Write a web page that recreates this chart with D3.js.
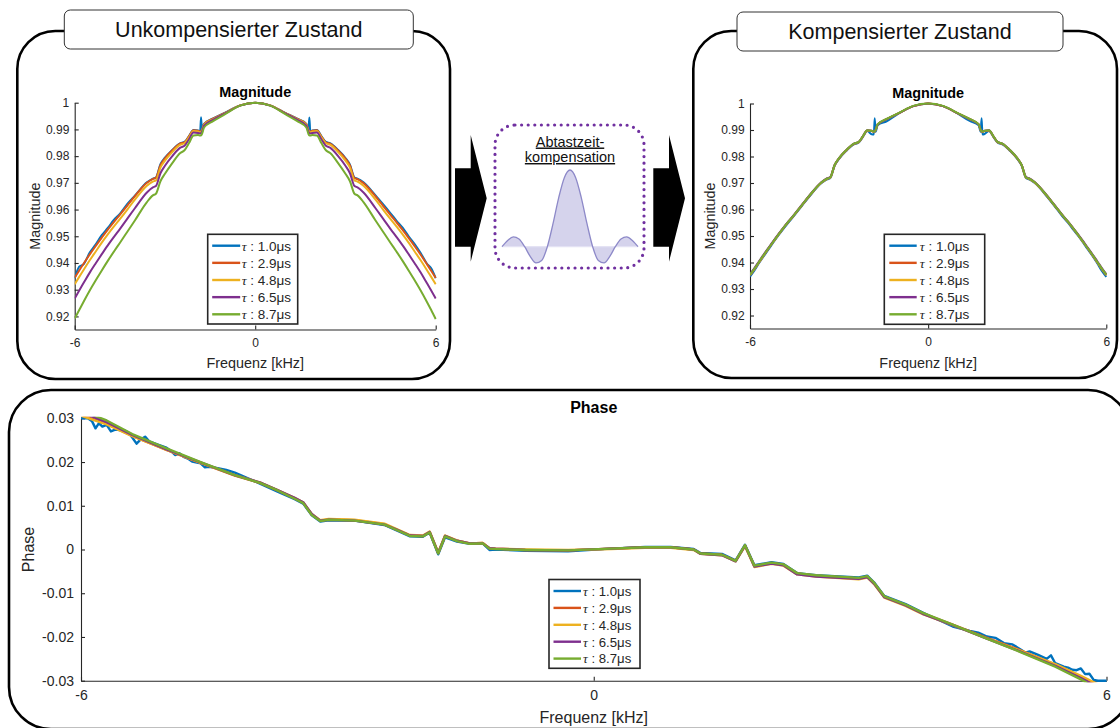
<!DOCTYPE html>
<html>
<head>
<meta charset="utf-8">
<script src="https://cdn.jsdelivr.net/npm/d3@7"></script>
<style>
  body { margin: 0; background: #fff; }
  svg { display: block; }
  text { font-family: "Liberation Sans", Arial, Helvetica, sans-serif; }
</style>
</head>
<body>
<svg id="fig" width="1120" height="728"></svg>
<script>
// ---- series labels and colours ----
const tauLabels = ["1.0μs", "2.9μs", "4.8μs", "6.5μs", "8.7μs"];
const seriesColors = ["#0072BD", "#D95319", "#EDB120", "#7E2F8E", "#77AC30"];

// ---- tick values ----
const freqTicks = [-6, 0, 6];
const magTicks = [0.92, 0.93, 0.94, 0.95, 0.96, 0.97, 0.98, 0.99, 1];
const phaseTicks = [-0.03, -0.02, -0.01, 0, 0.01, 0.02, 0.03];

// ---- magnitude: frequency grid [kHz] ----
const magFreq = [-6, -5.85, -5.7, -5.5, -5.3, -5.1, -4.9, -4.7, -4.5, -4.25, -4, -3.6, -3.4, -3.3, -3.15, -3, -2.75, -2.5, -2.35, -2.2, -2.05, -1.9, -1.83, -1.8, -1.77, -1.7, -1.4, -1, -0.5,
  0,
  0.5, 1, 1.4, 1.7, 1.77, 1.8, 1.83, 1.9, 2.05, 2.2, 2.35, 2.5, 2.75, 3, 3.15, 3.3, 3.4, 3.6, 4, 4.25, 4.5, 4.7, 4.9, 5.1, 5.3, 5.5, 5.7, 5.85, 6];

// ---- magnitude, uncompensated ----
const uncompBlue = [0.9342, 0.9386, 0.9396, 0.9439, 0.9470, 0.9504, 0.9531, 0.9561, 0.9584, 0.9621, 0.9652, 0.9702, 0.9716, 0.9720, 0.9770, 0.9794, 0.9824, 0.9848, 0.9853, 0.9875, 0.9898, 0.9896, 0.9893, 0.9946, 0.9899, 0.9921, 0.9941, 0.9963, 0.9990,
  1.0000,
  0.9990, 0.9962, 0.9940, 0.9921, 0.9898, 0.9945, 0.9893, 0.9896, 0.9898, 0.9875, 0.9853, 0.9848, 0.9824, 0.9793, 0.9768, 0.9720, 0.9716, 0.9702, 0.9653, 0.9620, 0.9586, 0.9558, 0.9532, 0.9500, 0.9471, 0.9437, 0.9399, 0.9380, 0.9343];
const uncompRed = [0.9345, 0.9372, 0.9398, 0.9432, 0.9464, 0.9495, 0.9525, 0.9553, 0.9580, 0.9615, 0.9650, 0.9700, 0.9715, 0.9719, 0.9766, 0.9792, 0.9823, 0.9847, 0.9852, 0.9874, 0.9897, 0.9895, 0.9892, 0.9893, 0.9898, 0.9920, 0.9940, 0.9962, 0.9990,
  1.0000,
  0.9990, 0.9961, 0.9939, 0.9920, 0.9897, 0.9893, 0.9892, 0.9895, 0.9897, 0.9873, 0.9851, 0.9846, 0.9822, 0.9791, 0.9765, 0.9718, 0.9714, 0.9699, 0.9649, 0.9614, 0.9579, 0.9552, 0.9524, 0.9494, 0.9463, 0.9431, 0.9397, 0.9371, 0.9344];
const uncompOrange = [0.9320, 0.9348, 0.9375, 0.9410, 0.9443, 0.9476, 0.9507, 0.9536, 0.9564, 0.9600, 0.9637, 0.9689, 0.9705, 0.9709, 0.9757, 0.9783, 0.9816, 0.9842, 0.9848, 0.9870, 0.9894, 0.9892, 0.9889, 0.9890, 0.9895, 0.9918, 0.9938, 0.9961, 0.9990,
  1.0000,
  0.9990, 0.9961, 0.9938, 0.9918, 0.9895, 0.9890, 0.9889, 0.9892, 0.9894, 0.9870, 0.9848, 0.9842, 0.9816, 0.9783, 0.9757, 0.9709, 0.9705, 0.9689, 0.9637, 0.9600, 0.9564, 0.9536, 0.9507, 0.9476, 0.9443, 0.9410, 0.9375, 0.9348, 0.9320];
const uncompPurple = [0.9267, 0.9297, 0.9326, 0.9364, 0.9399, 0.9433, 0.9466, 0.9497, 0.9527, 0.9566, 0.9605, 0.9664, 0.9683, 0.9688, 0.9736, 0.9764, 0.9801, 0.9831, 0.9839, 0.9863, 0.9888, 0.9887, 0.9885, 0.9886, 0.9891, 0.9914, 0.9936, 0.9960, 0.9989,
  1.0000,
  0.9989, 0.9960, 0.9936, 0.9914, 0.9891, 0.9886, 0.9885, 0.9887, 0.9888, 0.9863, 0.9839, 0.9831, 0.9801, 0.9764, 0.9736, 0.9688, 0.9683, 0.9664, 0.9605, 0.9566, 0.9527, 0.9497, 0.9466, 0.9433, 0.9399, 0.9364, 0.9326, 0.9297, 0.9267];
const uncompGreen = [0.9192, 0.9224, 0.9256, 0.9297, 0.9335, 0.9372, 0.9408, 0.9442, 0.9475, 0.9517, 0.9559, 0.9628, 0.9653, 0.9659, 0.9706, 0.9734, 0.9775, 0.9811, 0.9822, 0.9849, 0.9877, 0.9879, 0.9877, 0.9878, 0.9883, 0.9907, 0.9931, 0.9957, 0.9989,
  1.0000,
  0.9989, 0.9957, 0.9931, 0.9907, 0.9883, 0.9878, 0.9877, 0.9879, 0.9877, 0.9849, 0.9822, 0.9811, 0.9775, 0.9734, 0.9706, 0.9659, 0.9653, 0.9628, 0.9559, 0.9517, 0.9475, 0.9442, 0.9408, 0.9372, 0.9335, 0.9297, 0.9256, 0.9224, 0.9190];

// ---- magnitude, compensated ----
const compBlue = [0.9347, 0.9370, 0.9397, 0.9430, 0.9462, 0.9494, 0.9523, 0.9551, 0.9579, 0.9614, 0.9649, 0.9699, 0.9714, 0.9718, 0.9765, 0.9791, 0.9822, 0.9846, 0.9851, 0.9873, 0.9896, 0.9884, 0.9883, 0.9944, 0.9893, 0.9918, 0.9933, 0.9962, 0.9990,
  0.9999,
  0.9990, 0.9962, 0.9934, 0.9918, 0.9893, 0.9944, 0.9883, 0.9885, 0.9896, 0.9873, 0.9851, 0.9846, 0.9822, 0.9791, 0.9765, 0.9718, 0.9714, 0.9699, 0.9649, 0.9614, 0.9577, 0.9551, 0.9522, 0.9494, 0.9462, 0.9430, 0.9396, 0.9368, 0.9346];
const compRed = [0.9352, 0.9375, 0.9400, 0.9433, 0.9465, 0.9496, 0.9526, 0.9554, 0.9581, 0.9616, 0.9651, 0.9701, 0.9716, 0.9720, 0.9767, 0.9793, 0.9824, 0.9848, 0.9853, 0.9875, 0.9898, 0.9896, 0.9893, 0.9894, 0.9899, 0.9921, 0.9941, 0.9963, 0.9990,
  1.0000,
  0.9990, 0.9963, 0.9941, 0.9921, 0.9899, 0.9894, 0.9893, 0.9896, 0.9898, 0.9875, 0.9853, 0.9848, 0.9824, 0.9793, 0.9767, 0.9720, 0.9716, 0.9701, 0.9651, 0.9616, 0.9581, 0.9554, 0.9526, 0.9496, 0.9465, 0.9433, 0.9400, 0.9375, 0.9352];
const compOrange = [0.9353, 0.9376, 0.9401, 0.9434, 0.9466, 0.9497, 0.9527, 0.9555, 0.9582, 0.9617, 0.9652, 0.9701, 0.9716, 0.9720, 0.9767, 0.9793, 0.9824, 0.9848, 0.9853, 0.9875, 0.9898, 0.9896, 0.9893, 0.9894, 0.9899, 0.9921, 0.9941, 0.9963, 0.9990,
  1.0000,
  0.9990, 0.9963, 0.9941, 0.9921, 0.9899, 0.9894, 0.9893, 0.9896, 0.9898, 0.9875, 0.9853, 0.9848, 0.9824, 0.9793, 0.9767, 0.9720, 0.9716, 0.9701, 0.9652, 0.9617, 0.9582, 0.9555, 0.9527, 0.9497, 0.9466, 0.9434, 0.9401, 0.9376, 0.9353];
const compPurple = [0.9356, 0.9379, 0.9404, 0.9437, 0.9468, 0.9499, 0.9528, 0.9556, 0.9583, 0.9618, 0.9653, 0.9703, 0.9718, 0.9722, 0.9768, 0.9794, 0.9825, 0.9849, 0.9854, 0.9876, 0.9899, 0.9897, 0.9894, 0.9895, 0.9900, 0.9921, 0.9941, 0.9963, 0.9990,
  1.0000,
  0.9990, 0.9963, 0.9941, 0.9921, 0.9900, 0.9895, 0.9894, 0.9897, 0.9899, 0.9876, 0.9854, 0.9849, 0.9825, 0.9794, 0.9768, 0.9722, 0.9718, 0.9703, 0.9653, 0.9618, 0.9583, 0.9556, 0.9528, 0.9499, 0.9468, 0.9437, 0.9404, 0.9379, 0.9356];
const compGreen = [0.9354, 0.9377, 0.9402, 0.9435, 0.9466, 0.9497, 0.9527, 0.9555, 0.9582, 0.9617, 0.9652, 0.9702, 0.9717, 0.9721, 0.9768, 0.9794, 0.9825, 0.9849, 0.9854, 0.9876, 0.9899, 0.9897, 0.9894, 0.9895, 0.9900, 0.9922, 0.9942, 0.9964, 0.9991,
  1.0000,
  0.9991, 0.9964, 0.9942, 0.9922, 0.9900, 0.9895, 0.9894, 0.9897, 0.9899, 0.9876, 0.9854, 0.9849, 0.9825, 0.9794, 0.9768, 0.9721, 0.9717, 0.9702, 0.9652, 0.9617, 0.9582, 0.9555, 0.9527, 0.9497, 0.9466, 0.9435, 0.9402, 0.9377, 0.9354];

// ---- phase ----
const phaseFreq = [-6, -5.7, -5.4, -5, -4.6, -4.2, -3.9, -3.7, -3.5, -3.4, -3.3, -3.2, -3.1, -2.8, -2.45, -2.3, -2.15, -2, -1.92, -1.82, -1.74, -1.6, -1.45, -1.3, -1.22, -1.15, -0.8, -0.3,
  0.2, 0.6, 0.9, 1.17, 1.25, 1.5, 1.66, 1.77, 1.88, 2.08, 2.22, 2.38, 2.6, 3.1, 3.2, 3.28, 3.4, 3.65, 3.85, 4.2, 4.6, 5, 5.4, 5.7, 6];
const phaseRed = [0.0308, 0.0287, 0.0260, 0.0228, 0.0198, 0.0169, 0.0152, 0.0135, 0.0117, 0.0107, 0.0080, 0.0066, 0.0069, 0.0067, 0.0058, 0.0045, 0.0032, 0.0031, 0.0040, -0.0008, 0.0031, 0.0020, 0.0014, 0.0015, 0.0003, 0.0002, -0.0001, -0.0002,
  0.0002, 0.0005, 0.0005, 0.0000, -0.0009, -0.0012, -0.0026, 0.0009, -0.0038, -0.0031, -0.0035, -0.0055, -0.0060, -0.0066, -0.0062, -0.0077, -0.0108, -0.0127, -0.0146, -0.0172, -0.0202, -0.0231, -0.0263, -0.0292, -0.0322];
const phaseOrange = [0.0306, 0.0286, 0.0259, 0.0228, 0.0198, 0.0170, 0.0153, 0.0136, 0.0118, 0.0108, 0.0081, 0.0067, 0.0070, 0.0068, 0.0059, 0.0046, 0.0033, 0.0032, 0.0041, -0.0007, 0.0032, 0.0021, 0.0014, 0.0015, 0.0003, 0.0002, 0.0000, -0.0001,
  0.0001, 0.0004, 0.0004, -0.0001, -0.0010, -0.0013, -0.0027, 0.0008, -0.0040, -0.0033, -0.0037, -0.0057, -0.0062, -0.0068, -0.0064, -0.0079, -0.0110, -0.0129, -0.0148, -0.0173, -0.0203, -0.0232, -0.0262, -0.0289, -0.0318];
const phasePurple = [0.0314, 0.0291, 0.0262, 0.0229, 0.0199, 0.0170, 0.0153, 0.0136, 0.0118, 0.0108, 0.0081, 0.0066, 0.0068, 0.0066, 0.0057, 0.0045, 0.0032, 0.0031, 0.0040, -0.0008, 0.0031, 0.0020, 0.0014, 0.0014, 0.0003, 0.0002, -0.0001, -0.0002,
  0.0002, 0.0005, 0.0005, 0.0000, -0.0010, -0.0013, -0.0027, 0.0009, -0.0039, -0.0032, -0.0036, -0.0057, -0.0062, -0.0067, -0.0063, -0.0078, -0.0109, -0.0128, -0.0147, -0.0173, -0.0204, -0.0234, -0.0266, -0.0294, -0.0325];
const phaseGreen = [0.0318, 0.0295, 0.0264, 0.0231, 0.0200, 0.0170, 0.0152, 0.0135, 0.0116, 0.0106, 0.0079, 0.0065, 0.0068, 0.0066, 0.0057, 0.0044, 0.0031, 0.0030, 0.0039, -0.0009, 0.0030, 0.0019, 0.0013, 0.0014, 0.0002, 0.0001, -0.0001, -0.0002,
  0.0002, 0.0005, 0.0005, 0.0000, -0.0009, -0.0012, -0.0026, 0.0010, -0.0037, -0.0030, -0.0034, -0.0054, -0.0059, -0.0065, -0.0061, -0.0076, -0.0107, -0.0126, -0.0145, -0.0172, -0.0204, -0.0235, -0.0268, -0.0297, -0.0330];
// the shortest sampling time is noisier, so it is kept on a finer grid
const phaseFreqBlue = [-6, -5.92, -5.87, -5.83, -5.79, -5.75, -5.7, -5.65, -5.6, -5.55, -5.5, -5.45, -5.4, -5.35, -5.3, -5.25, -5.2, -5.1, -5, -4.95,
  -4.9, -4.85, -4.8, -4.75, -4.7, -4.6, -4.55, -4.5, -4.4, -4.3, -4.2, -3.9, -3.7, -3.5, -3.4, -3.3, -3.2, -3.1, -2.8, -2.45,
  -2.3, -2.15, -2, -1.92, -1.82, -1.74, -1.6, -1.45, -1.3, -1.22, -1.15, -0.8, -0.3, 0.2, 0.6, 0.9, 1.17, 1.25, 1.5, 1.66,
  1.77, 1.88, 2.08, 2.22, 2.38, 2.6, 3.1, 3.2, 3.28, 3.4, 3.65, 3.85, 4.2, 4.4, 4.5, 4.6, 4.7, 4.8, 4.9, 5,
  5.05, 5.1, 5.2, 5.3, 5.35, 5.4, 5.5, 5.55, 5.6, 5.65, 5.7, 5.75, 5.8, 5.85, 5.9, 6];
const phaseBlue = [0.0300, 0.0300, 0.0293, 0.0277, 0.0289, 0.0281, 0.0285, 0.0270, 0.0274, 0.0273, 0.0273, 0.0268, 0.0256, 0.0242, 0.0252, 0.0258, 0.0247, 0.0240, 0.0233, 0.0226,
  0.0216, 0.0220, 0.0212, 0.0208, 0.0201, 0.0197, 0.0188, 0.0189, 0.0186, 0.0182, 0.0176, 0.0150, 0.0132, 0.0115, 0.0105, 0.0078, 0.0064, 0.0067, 0.0066, 0.0056,
  0.0043, 0.0030, 0.0029, 0.0039, -0.0011, 0.0028, 0.0018, 0.0013, 0.0014, -0.0001, 0.0000, -0.0003, -0.0004, 0.0002, 0.0006, 0.0006, 0.0001, -0.0008, -0.0010, -0.0025,
  0.0011, -0.0036, -0.0029, -0.0033, -0.0054, -0.0059, -0.0064, -0.0060, -0.0075, -0.0106, -0.0125, -0.0144, -0.0176, -0.0186, -0.0190, -0.0199, -0.0202, -0.0214, -0.0217, -0.0229,
  -0.0236, -0.0233, -0.0241, -0.0250, -0.0242, -0.0260, -0.0268, -0.0270, -0.0275, -0.0276, -0.0272, -0.0285, -0.0284, -0.0298, -0.0300, -0.0300];

// ---- sinc sketch inside the compensation box ----
const sincX = [-3, -2.75, -2.5, -2.25, -2, -1.75, -1.5, -1.25, -1, -0.75, -0.5, -0.25, 0, 0.25, 0.5, 0.75, 1, 1.25, 1.5, 1.75, 2, 2.25, 2.5, 2.75, 3];
const sincY = [0, 0.082, 0.127, 0.100, 0, -0.129, -0.212, -0.180, 0, 0.300, 0.637, 0.900, 1, 0.900, 0.637, 0.300, 0, -0.180, -0.212, -0.129, 0, 0.100, 0.127, 0.082, 0];

const svg = d3.select("#fig");
const AXIS = "#262626";
const FONT = '"Liberation Sans", Arial, Helvetica, sans-serif';

// ---------- rounded frames with title tabs ----------
function frame(x0, y0, x1, y1, r) {
  svg.append("rect")
    .attr("x", x0).attr("y", y0).attr("width", x1 - x0).attr("height", y1 - y0)
    .attr("rx", r).attr("ry", r)
    .attr("fill", "none").attr("stroke", "#000").attr("stroke-width", 2.6);
}
function titleTab(x0, y0, x1, y1, label) {
  svg.append("rect")
    .attr("x", x0).attr("y", y0).attr("width", x1 - x0).attr("height", y1 - y0)
    .attr("rx", 6).attr("ry", 6)
    .attr("fill", "#fff").attr("stroke", "#333").attr("stroke-width", 1);
  svg.append("text")
    .attr("x", (x0 + x1) / 2).attr("y", (y0 + y1) / 2 + 7.7)
    .attr("text-anchor", "middle").attr("font-size", 21.5).attr("fill", "#111")
    .text(label);
}

frame(17.3, 31, 450, 379, 38);
frame(693.3, 31, 1117, 378, 38);
frame(9, 390, 1130, 729, 42);
titleTab(64.3, 10, 413.3, 49, "Unkompensierter Zustand");
titleTab(737, 12, 1063, 51, "Kompensierter Zustand");

// ---------- generic MATLAB-like axes ----------
let clipCount = 0;
function panel(cfg) {
  const x = d3.scaleLinear().domain([-6, 6]).range([cfg.left, cfg.right]);
  const y = d3.scaleLinear().domain(cfg.yDomain).range([cfg.bottom, cfg.top]);
  const g = svg.append("g");

  const clipId = "clip" + (clipCount++);
  svg.append("clipPath").attr("id", clipId).append("rect")
    .attr("x", cfg.left).attr("y", cfg.top - 1.5)
    .attr("width", cfg.right - cfg.left + 1).attr("height", cfg.bottom - cfg.top + 3);

  const yAxis = g.append("g").attr("transform", `translate(${cfg.left},0)`)
    .call(d3.axisLeft(y).tickValues(cfg.yTicks).tickFormat(cfg.yFormat)
      .tickSizeInner(-4).tickSizeOuter(0).tickPadding(cfg.yPad));
  const xAxis = g.append("g").attr("transform", `translate(0,${cfg.bottom})`)
    .call(d3.axisBottom(x).tickValues(freqTicks).tickFormat(d3.format("d"))
      .tickSizeInner(-4).tickSizeOuter(0).tickPadding(cfg.xPad));
  [yAxis, xAxis].forEach(a => {
    a.select(".domain").attr("stroke", AXIS).attr("stroke-width", 1.1);
    a.selectAll(".tick line").attr("stroke", AXIS).attr("stroke-width", 1.1);
    a.selectAll(".tick text").attr("fill", AXIS).attr("font-size", cfg.tickFont).attr("font-family", FONT);
  });
  xAxis.selectAll(".tick text").text(d => d < 0 ? "-" + Math.abs(d) : String(d));

  // title, axis labels
  g.append("text").attr("x", (cfg.left + cfg.right) / 2).attr("y", cfg.top - 5.5)
    .attr("text-anchor", "middle").attr("font-weight", "bold").attr("font-size", cfg.titleFont)
    .attr("fill", "#000").text(cfg.title);
  g.append("text").attr("x", (cfg.left + cfg.right) / 2).attr("y", cfg.bottom + cfg.xLabelDy)
    .attr("text-anchor", "middle").attr("font-size", cfg.labelFont).attr("fill", AXIS)
    .text("Frequenz [kHz]");
  g.append("text")
    .attr("transform", `translate(${cfg.yLabelX},${(cfg.top + cfg.bottom) / 2}) rotate(-90)`)
    .attr("text-anchor", "middle").attr("font-size", cfg.labelFont).attr("fill", AXIS)
    .text(cfg.yLabel);

  const lines = g.append("g").attr("clip-path", `url(#${clipId})`);
  const lineGen = d3.line().x(d => x(d[0])).y(d => y(d[1])).curve(cfg.curve);
  cfg.series.forEach((s, i) => {
    lines.append("path")
      .attr("d", lineGen(d3.zip(s.f, s.v)))
      .attr("fill", "none").attr("stroke", seriesColors[i])
      .attr("stroke-width", cfg.lineWidth).attr("stroke-linejoin", "round");
  });
  return g;
}

function legend(lg) {
  const g = svg.append("g");
  g.append("rect").attr("x", lg.x).attr("y", lg.y).attr("width", lg.w).attr("height", lg.h)
    .attr("fill", "#fff").attr("stroke", AXIS).attr("stroke-width", 1.6);
  tauLabels.forEach((lab, i) => {
    const cy = lg.y + lg.first + i * lg.step;
    g.append("line").attr("x1", lg.x + lg.lx0).attr("x2", lg.x + lg.lx1)
      .attr("y1", cy).attr("y2", cy)
      .attr("stroke", seriesColors[i]).attr("stroke-width", 2.4);
    const t = g.append("text").attr("x", lg.x + lg.tx).attr("y", cy + 4.8)
      .attr("font-size", lg.font).attr("fill", AXIS);
    t.append("tspan").attr("font-family", '"Liberation Serif", "DejaVu Serif", serif')
      .attr("font-style", "italic").text("τ");
    t.append("tspan").text(" : " + lab);
  });
}

const magFmt = d => d === 1 ? "1" : d.toFixed(2);
const phaseFmt = d => d === 0 ? "0" : d.toFixed(2);

// uncompensated magnitude
panel({
  left: 74.7, right: 435.7, top: 102.7, bottom: 329.5,
  yDomain: [0.9151, 1], yTicks: magTicks, yFormat: magFmt, xPad: 9, yPad: 5.4,
  tickFont: 12, labelFont: 14.4, titleFont: 14.4,
  title: "Magnitude", yLabel: "Magnitude", yLabelX: 40, xLabelDy: 38.5,
  curve: d3.curveMonotoneX, lineWidth: 2,
  series: [
    { f: magFreq, v: uncompBlue }, { f: magFreq, v: uncompRed }, { f: magFreq, v: uncompOrange },
    { f: magFreq, v: uncompPurple }, { f: magFreq, v: uncompGreen }
  ]
});
legend({ x: 207.7, y: 234.3, w: 90, h: 89.7, first: 11.4, step: 17.15, lx0: 4.5, lx1: 32.5, tx: 34, font: 13.5 });

// compensated magnitude
panel({
  left: 750, right: 1106.3, top: 103.5, bottom: 328.5,
  yDomain: [0.9151, 1], yTicks: magTicks, yFormat: magFmt, xPad: 9, yPad: 5.4,
  tickFont: 12, labelFont: 14.4, titleFont: 14.4,
  title: "Magnitude", yLabel: "Magnitude", yLabelX: 714.5, xLabelDy: 39,
  curve: d3.curveMonotoneX, lineWidth: 2,
  series: [
    { f: magFreq, v: compBlue }, { f: magFreq, v: compRed }, { f: magFreq, v: compOrange },
    { f: magFreq, v: compPurple }, { f: magFreq, v: compGreen }
  ]
});
legend({ x: 884.3, y: 234.3, w: 100.4, h: 90, first: 11.4, step: 17.15, lx0: 5, lx1: 32.4, tx: 35.5, font: 13.5 });

// phase
panel({
  left: 81, right: 1106.5, top: 418.3, bottom: 680.7,
  yDomain: [-0.03, 0.03], yTicks: phaseTicks, yFormat: phaseFmt, xPad: 9.5, yPad: 7,
  tickFont: 14, labelFont: 16, titleFont: 16,
  title: "Phase", yLabel: "Phase", yLabelX: 33.5, xLabelDy: 42.5,
  curve: d3.curveLinear, lineWidth: 2.4,
  series: [
    { f: phaseFreqBlue, v: phaseBlue }, { f: phaseFreq, v: phaseRed }, { f: phaseFreq, v: phaseOrange },
    { f: phaseFreq, v: phasePurple }, { f: phaseFreq, v: phaseGreen }
  ]
});
legend({ x: 549, y: 579.5, w: 91, h: 88.8, first: 11.5, step: 16.9, lx0: 4.5, lx1: 32, tx: 34, font: 13.2 });

// ---------- compensation block between the magnitude panels ----------
const arrows = svg.append("g").attr("fill", "#000");
[455, 653.3].forEach(ax => {
  arrows.append("path").attr("d",
    `M${ax},168.3 H${ax + 15.7} V135 L${ax + 31.7},198.3 L${ax + 15.7},261.7 V246.7 H${ax} Z`);
});

svg.append("rect").attr("x", 495).attr("y", 125).attr("width", 149).attr("height", 143)
  .attr("rx", 20).attr("ry", 20).attr("fill", "none")
  .attr("stroke", "#7030A0").attr("stroke-width", 3.2)
  .attr("stroke-linecap", "round").attr("stroke-dasharray", "0 6.6");

const sx = d3.scaleLinear().domain([-3, 3]).range([502, 638]);
const sy = d3.scaleLinear().domain([0, 1]).range([246.7, 170]);
const sincPts = d3.zip(sincX, sincY);
svg.append("path")
  .attr("d", d3.area().x(d => sx(d[0])).y0(sy(0)).y1(d => sy(d[1])).curve(d3.curveMonotoneX)(sincPts))
  .attr("fill", "#d5d3ec");
svg.append("line").attr("x1", sx(-3)).attr("x2", sx(3)).attr("y1", sy(0)).attr("y2", sy(0))
  .attr("stroke", "#e4e2f4").attr("stroke-width", 1.2);
svg.append("path")
  .attr("d", d3.line().x(d => sx(d[0])).y(d => sy(d[1])).curve(d3.curveMonotoneX)(sincPts))
  .attr("fill", "none").attr("stroke", "#8d89c8").attr("stroke-width", 1.3);

["Abtastzeit-", "kompensation"].forEach((s, i) => {
  svg.append("text").attr("x", 570).attr("y", 146.5 + i * 15.5)
    .attr("text-anchor", "middle").attr("font-size", 14.5).attr("fill", "#111")
    .style("text-decoration", "underline").text(s);
});
</script>
</body>
</html>
